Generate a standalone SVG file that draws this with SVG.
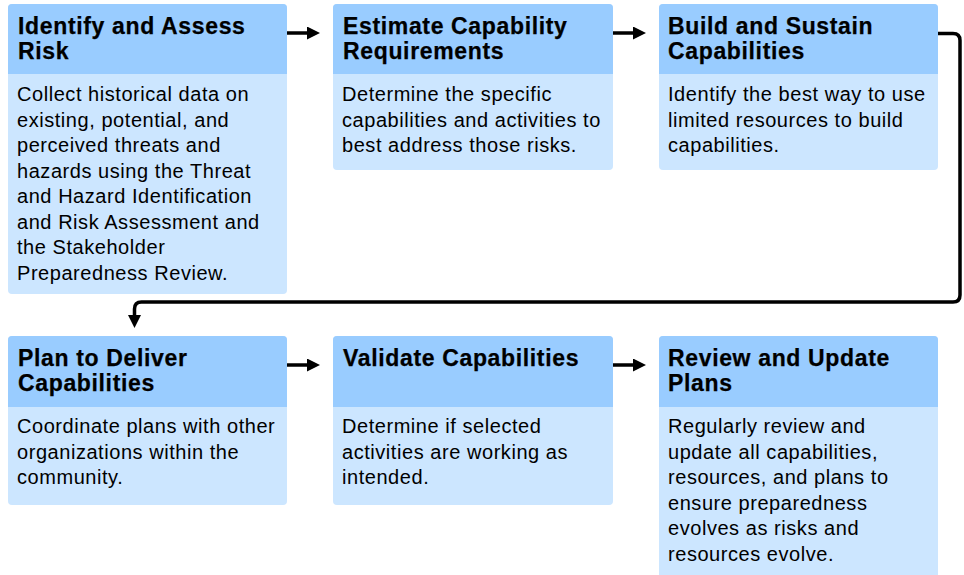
<svg xmlns="http://www.w3.org/2000/svg" width="964" height="575" viewBox="0 0 964 575">
<style>
.body{fill:#CCE6FF}
.head{fill:#99CCFF}
.ht{font-family:"Liberation Sans",Arial,sans-serif;font-weight:bold;font-size:23px;letter-spacing:0.65px;fill:#000;stroke:#000;stroke-width:0.25}
.bt{font-family:"Liberation Sans",Arial,sans-serif;font-size:20px;letter-spacing:0.55px;fill:#000}
.conn{fill:none;stroke:#000;stroke-width:3.5}
</style>
<defs>
<marker id="ah" markerWidth="13" markerHeight="13" refX="0" refY="6.5" orient="auto" markerUnits="userSpaceOnUse">
<path d="M0,0 L13,6.5 L0,13 Z" fill="#000"/>
</marker>
</defs>
<rect width="964" height="575" fill="#fff"/>
<g id="connectors">
<path class="conn" d="M287,33 H307" marker-end="url(#ah)"/>
<path class="conn" d="M613,33 H633" marker-end="url(#ah)"/>
<path class="conn" d="M938,33.5 H953 Q960,33.5 960,40.5 V295 Q960,302 953,302 H141.5 Q134.5,302 134.5,309 V315" marker-end="url(#ah)"/>
<path class="conn" d="M287,365 H307" marker-end="url(#ah)"/>
<path class="conn" d="M613,365 H633" marker-end="url(#ah)"/>
</g>
<g id="identify">
<rect class="body" x="8" y="4" width="279" height="290" rx="4"/>
<path class="head" d="M8,74 V8 Q8,4 12,4 H283 Q287,4 287,8 V74 Z"/>
<text class="ht"><tspan x="18" y="34">Identify and Assess</tspan><tspan x="18" y="59">Risk</tspan></text>
<text class="bt"><tspan x="17" y="101">Collect historical data on</tspan><tspan x="17" y="126.5">existing, potential, and</tspan><tspan x="17" y="152">perceived threats and</tspan><tspan x="17" y="177.5">hazards using the Threat</tspan><tspan x="17" y="203">and Hazard Identification</tspan><tspan x="17" y="228.5">and Risk Assessment and</tspan><tspan x="17" y="254">the Stakeholder</tspan><tspan x="17" y="279.5">Preparedness Review.</tspan></text>
</g>
<g id="estimate">
<rect class="body" x="333" y="4" width="280" height="166" rx="4"/>
<path class="head" d="M333,74 V8 Q333,4 337,4 H609 Q613,4 613,8 V74 Z"/>
<text class="ht"><tspan x="343" y="34">Estimate Capability</tspan><tspan x="343" y="59">Requirements</tspan></text>
<text class="bt"><tspan x="342" y="101">Determine the specific</tspan><tspan x="342" y="126.5">capabilities and activities to</tspan><tspan x="342" y="152">best address those risks.</tspan></text>
</g>
<g id="build">
<rect class="body" x="659" y="4" width="279" height="166" rx="4"/>
<path class="head" d="M659,74 V8 Q659,4 663,4 H934 Q938,4 938,8 V74 Z"/>
<text class="ht"><tspan x="668" y="34">Build and Sustain</tspan><tspan x="668" y="59">Capabilities</tspan></text>
<text class="bt"><tspan x="668" y="101">Identify the best way to use</tspan><tspan x="668" y="126.5">limited resources to build</tspan><tspan x="668" y="152">capabilities.</tspan></text>
</g>
<g id="plan">
<rect class="body" x="8" y="336" width="279" height="169" rx="4"/>
<path class="head" d="M8,407 V340 Q8,336 12,336 H283 Q287,336 287,340 V407 Z"/>
<text class="ht"><tspan x="18" y="366">Plan to Deliver</tspan><tspan x="18" y="391">Capabilities</tspan></text>
<text class="bt"><tspan x="17" y="433">Coordinate plans with other</tspan><tspan x="17" y="458.5">organizations within the</tspan><tspan x="17" y="484">community.</tspan></text>
</g>
<g id="validate">
<rect class="body" x="333" y="336" width="280" height="169" rx="4"/>
<path class="head" d="M333,407 V340 Q333,336 337,336 H609 Q613,336 613,340 V407 Z"/>
<text class="ht"><tspan x="343" y="366">Validate Capabilities</tspan></text>
<text class="bt"><tspan x="342" y="433">Determine if selected</tspan><tspan x="342" y="458.5">activities are working as</tspan><tspan x="342" y="484">intended.</tspan></text>
</g>
<g id="review">
<rect class="body" x="659" y="336" width="279" height="250" rx="4"/>
<path class="head" d="M659,407 V340 Q659,336 663,336 H934 Q938,336 938,340 V407 Z"/>
<text class="ht"><tspan x="668" y="366">Review and Update</tspan><tspan x="668" y="391">Plans</tspan></text>
<text class="bt"><tspan x="668" y="433">Regularly review and</tspan><tspan x="668" y="458.5">update all capabilities,</tspan><tspan x="668" y="484">resources, and plans to</tspan><tspan x="668" y="509.5">ensure preparedness</tspan><tspan x="668" y="535">evolves as risks and</tspan><tspan x="668" y="560.5">resources evolve.</tspan></text>
</g>
</svg>
